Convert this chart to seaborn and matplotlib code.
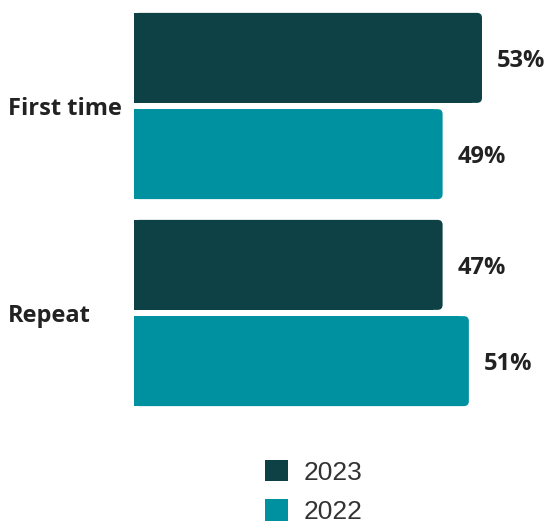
import matplotlib
matplotlib.use("Agg")
import matplotlib.pyplot as plt
import seaborn as sns
import pandas as pd
from matplotlib.patches import FancyBboxPatch, Patch

categories = ["First time", "Repeat"]
years = ["2023", "2022"]
# bar lengths as drawn in the picture
values_2023 = [53, 47]
values_2022 = [47, 51]
# value labels as printed
labels_2023 = ["53%", "47%"]
labels_2022 = ["49%", "51%"]

colors = {"2023": "#0d4146", "2022": "#0091a0"}

df = pd.DataFrame({
    "category": categories * 2,
    "year": ["2023"] * 2 + ["2022"] * 2,
    "value": values_2023 + values_2022,
})

sns.set_theme(style="white")
plt.rcParams["font.family"] = ["Open Sans", "DejaVu Sans"]

W, H = 550, 527
fig = plt.figure(figsize=(W / 100, H / 100), dpi=100)
ax_left, ax_right, ax_top, ax_bottom = 134, 550, 0, 420
ax = fig.add_axes([ax_left / W, 1 - ax_bottom / H, (ax_right - ax_left) / W, (ax_bottom - ax_top) / H])

sns.barplot(data=df, y="category", x="value", hue="year", hue_order=years,
            palette=colors, orient="h", width=0.93, gap=0.065, ax=ax,
            legend=False, linewidth=0, saturation=1)

px_per_x = 6.566
px_per_y = 207
ax.set_xlim(0, (ax_right - ax_left) / px_per_x)
ax.set_ylim((ax_bottom - 106) / px_per_y, -106 / px_per_y)
for s in ax.spines.values():
    s.set_visible(False)
ax.set_xticks([])
ax.set_xlabel("")
ax.set_ylabel("")
ax.tick_params(axis="y", length=0, pad=(ax_left - 8) * 0.72)
for t in ax.get_yticklabels():
    t.set_fontsize(17)
    t.set_fontweight("bold")
    t.set_color("#222222")
    t.set_horizontalalignment("left")

# rounded right corners
r_px = 5
rx = r_px / px_per_x
ry = r_px / px_per_y
patches = list(ax.patches)
for p in patches:
    x, y = p.get_x(), p.get_y()
    w, h = p.get_width(), p.get_height()
    fc = p.get_facecolor()
    rb = FancyBboxPatch((x, y), w, h, boxstyle=f"round,pad=0,rounding_size={rx}",
                        mutation_aspect=ry / rx, facecolor=fc, edgecolor="none", linewidth=0)
    ax.add_patch(rb)
    p.set_width(w - 2 * rx)

# value labels
bars_sorted = sorted(patches, key=lambda p: p.get_y())
all_labels = [labels_2023[0], labels_2022[0], labels_2023[1], labels_2022[1]]
all_vals = [values_2023[0], values_2022[0], values_2023[1], values_2022[1]]
for p, lab, v in zip(bars_sorted, all_labels, all_vals):
    ax.text(v + 15 / px_per_x, p.get_y() + p.get_height() / 2 + 3 / px_per_y, lab,
            va="center", ha="left", fontsize=17, fontweight="bold", color="#222222")

handles = [Patch(facecolor=colors[y], edgecolor="none", label=y) for y in years]
fs = 19
leg = fig.legend(handles=handles, loc="center left", bbox_to_anchor=(265 / W, 1 - 492 / H),
                 frameon=False, prop={"family": ["Liberation Sans"], "size": fs},
                 borderpad=0, borderaxespad=0,
                 handlelength=0.87, handleheight=0.87, handletextpad=0.6, labelspacing=0.55)
for t in leg.get_texts():
    t.set_color("#333333")

fig.savefig("out.png", dpi=100)
